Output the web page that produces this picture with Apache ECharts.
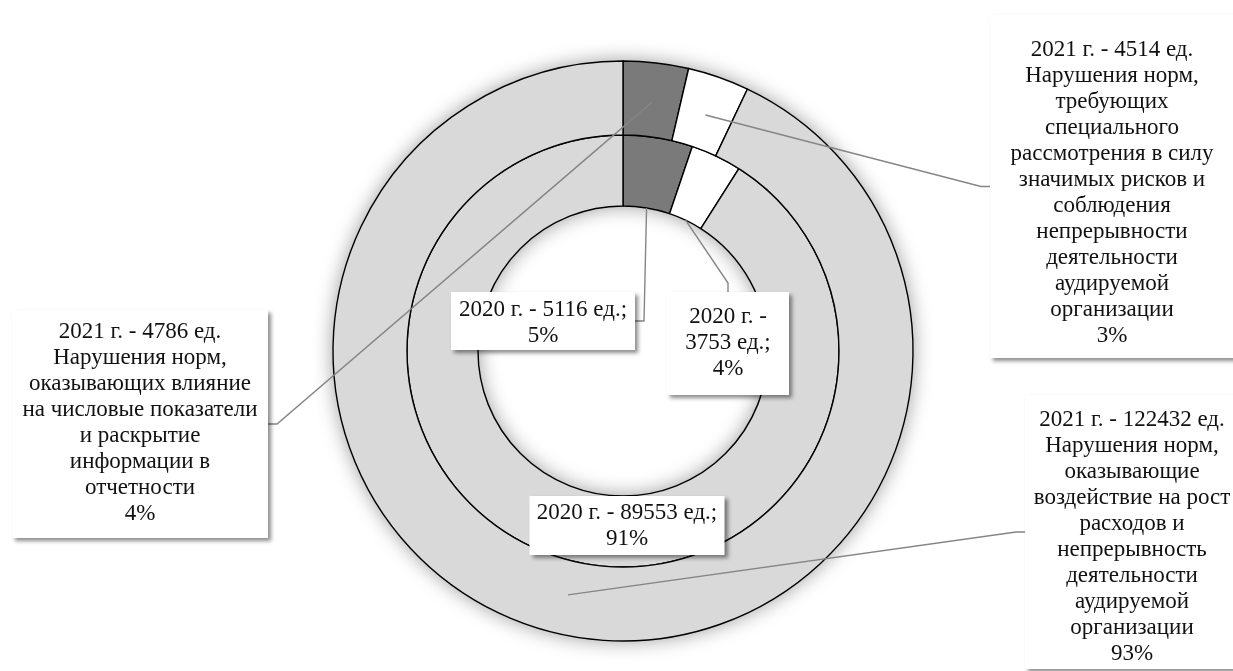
<!DOCTYPE html>
<html><head><meta charset="utf-8">
<script src="https://cdn.jsdelivr.net/npm/echarts@6/dist/echarts.min.js"></script>
<style>html,body{margin:0;padding:0;background:#fff}#c{width:1233px;height:671px}</style>
</head><body><div id="c"></div>
<script>
// ---- data ----
const categories = [
  'Нарушения норм,\nоказывающих влияние\nна числовые показатели\nи раскрытие\nинформации в\nотчетности',
  'Нарушения норм,\nтребующих\nспециального\nрассмотрения в силу\nзначимых рисков и\nсоблюдения\nнепрерывности\nдеятельности\nаудируемой\nорганизации',
  'Нарушения норм,\nоказывающие\nвоздействие на рост\nрасходов и\nнепрерывность\nдеятельности\nаудируемой\nорганизации'
];
const years = ['2020 г.', '2021 г.'];
const values2020 = [5116, 3753, 89553];
const values2021 = [4786, 4514, 122432];

// ---- styles / layout ----
const sliceColors = ['#7a7a7a', '#ffffff', '#d9d9d9'];
const FONT = '"Liberation Serif", "Times New Roman", serif';
const CX = 623, CY = 351;
// annotation boxes: centre x, top y, outer width, padding [t, r, b, l], wrap after year
const outerBoxes = [
  {cx: 140, top: 310, w: 256, pad: [9, 4, 11, 4]},
  {cx: 1112, top: 15, w: 244, pad: [22, 4, 9, 4]},
  {cx: 1132, top: 395, w: 214, pad: [12, 4, 2, 4]}
];
const innerBoxes = [
  {cx: 543, top: 292, w: 184, pad: [5, 2, 1, 2]},
  {cx: 728, top: 292, w: 122, pad: [12, 6, 13, 6], wrap: true},
  {cx: 627, top: 496, w: 195, pad: [4, 2, 3, 2], noLine: true}
];

const baseLabel = {
  show: true, position: 'outside', color: '#111', fontFamily: FONT, fontSize: 23, lineHeight: 26,
  backgroundColor: '#ffffff', align: 'center', overflow: 'none',
  shadowColor: 'rgba(0,0,0,0.45)', shadowBlur: 4, shadowOffsetX: 3, shadowOffsetY: 3
};

function ringData(values) {
  return values.map((v, i) => ({value: v, name: categories[i], itemStyle: {color: sliceColors[i]}}));
}
function labelData(values, boxes, formatter) {
  return values.map((v, i) => {
    const b = boxes[i];
    const lab = Object.assign({}, baseLabel, {
      width: b.w - b.pad[1] - b.pad[3], padding: b.pad,
      formatter: p => formatter(p, !!b.wrap)
    });
    const item = {value: v, name: categories[i], label: lab};
    if (b.noLine) item.labelLine = {show: false};
    return item;
  });
}
function layoutFor(boxes) {
  return function (params) {
    const b = boxes[params.dataIndex];
    return {x: b.cx, y: b.top, align: 'center', verticalAlign: 'top'};
  };
}

const ringCommon = {
  type: 'pie', center: [CX, CY], startAngle: 90, clockwise: true, silent: true,
  animation: false, avoidLabelOverlap: false, label: {show: false}, labelLine: {show: false},
  itemStyle: {borderColor: '#000', borderWidth: 1.4}, emphasis: {disabled: true}
};
const helperCommon = {
  type: 'pie', center: [CX, CY], startAngle: 90, clockwise: true, silent: true,
  animation: false, avoidLabelOverlap: false, percentPrecision: 0,
  itemStyle: {color: 'rgba(0,0,0,0)', borderWidth: 0}, emphasis: {disabled: true},
  labelLine: {show: true, length: 10, length2: 9, lineStyle: {color: '#858585', width: 1.4}}, z: 5
};

const total2021 = values2021.reduce((a, b) => a + b, 0);
const fmtOuter = p => `${years[1]} - ${p.value} ед.\n${p.name}\n${p.percent}%`;
const fmtInner = (p, wrap) => `${years[0]} -${wrap ? '\n' : ' '}${p.value} ед.;\n${p.percent}%`;

const option = {
  backgroundColor: '#ffffff',
  animation: false,
  series: [
    // soft shadow under the rings
    Object.assign({}, ringCommon, {
      radius: [145, 290], z: 1,
      data: [{value: total2021, name: 'shadow'}],
      itemStyle: {color: '#d9d9d9', borderWidth: 0, shadowBlur: 20, shadowColor: 'rgba(0,0,0,0.4)'}
    }),
    Object.assign({}, ringCommon, {name: years[0], radius: [145, 216], z: 2, data: ringData(values2020)}),
    Object.assign({}, ringCommon, {name: years[1], radius: [216, 290], z: 2, data: ringData(values2021)}),
    // label carriers (outer ring, anchored mid-ring)
    Object.assign({}, helperCommon, {
      name: years[1] + ' labels', radius: [0, 250],
      data: labelData(values2021, outerBoxes, fmtOuter),
      labelLayout: layoutFor(outerBoxes)
    }),
    // label carriers (inner ring, anchored at inner edge)
    Object.assign({}, helperCommon, {
      name: years[0] + ' labels', radius: [0, 145],
      data: labelData(values2020, innerBoxes, fmtInner),
      labelLayout: layoutFor(innerBoxes)
    })
  ]
};

const chart = echarts.init(document.getElementById('c'), null, {renderer: 'canvas'});
chart.setOption(option);
</script></body></html>
